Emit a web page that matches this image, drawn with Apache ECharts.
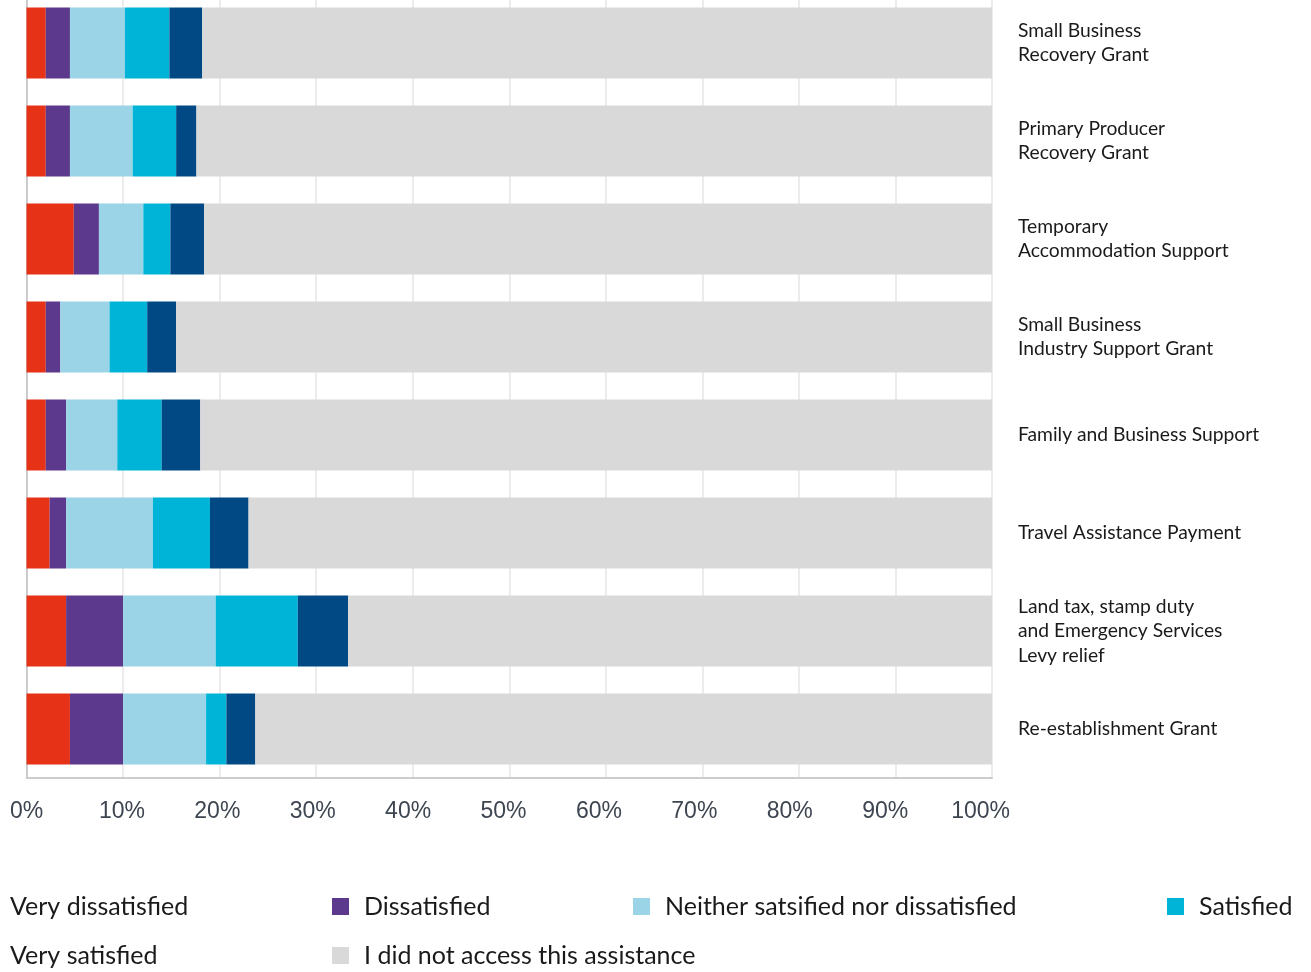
<!DOCTYPE html>
<html>
<head>
<meta charset="utf-8">
<title>Satisfaction with assistance</title>
<script src="https://cdn.jsdelivr.net/npm/echarts@6/dist/echarts.min.js"></script>
<style>
  html, body { margin: 0; padding: 0; background: #ffffff; overflow: hidden; }
  /* canvas extends 10px above the page so the first band can sit flush with the top edge */
  #chart { width: 1311px; height: 982px; margin-top: -10px; }
</style>
</head>
<body>
<div id="chart"></div>
<script>
// Assistance programs, top to bottom
const categories = [
  'Small Business\nRecovery Grant',
  'Primary Producer\nRecovery Grant',
  'Temporary\nAccommodation Support',
  'Small Business\nIndustry Support Grant',
  'Family and Business Support',
  'Travel Assistance Payment',
  'Land tax, stamp duty\nand Emergency Services\nLevy relief',
  'Re-establishment Grant'
];

// Share of respondents (%) per response
const veryDissatisfied = [2.0, 2.0, 4.9, 2.0, 2.0, 2.4, 4.1, 4.5];
const dissatisfied     = [2.5, 2.5, 2.6, 1.5, 2.1, 1.7, 5.9, 5.5];
const neither          = [5.7, 6.5, 4.6, 5.1, 5.3, 9.0, 9.6, 8.6];
const satisfied        = [4.6, 4.5, 2.8, 3.9, 4.6, 5.9, 8.5, 2.1];
const verySatisfied    = [3.4, 2.1, 3.5, 3.0, 4.0, 4.0, 5.2, 3.0];
const didNotAccess     = [81.8, 82.4, 81.6, 84.5, 82.0, 77.0, 66.7, 76.3];

const xTicks = [0, 10, 20, 30, 40, 50, 60, 70, 80, 90, 100];

const seriesDefs = [
  { name: 'Very dissatisfied', data: veryDissatisfied, color: '#e63318' },
  { name: 'Dissatisfied', data: dissatisfied, color: '#5c398c' },
  { name: 'Neither satsified nor dissatisfied', data: neither, color: '#9ad4e6' },
  { name: 'Satisfied', data: satisfied, color: '#00b4d8' },
  { name: 'Very satisfied', data: verySatisfied, color: '#004985' },
  { name: 'I did not access this assistance', data: didNotAccess, color: '#d9d9d9' }
];

// One legend per entry, laid out in a two-row, four-column block
const legendSlots = [
  { name: 'Very dissatisfied', left: -22, top: 904 },
  { name: 'Dissatisfied', left: 332, top: 904 },
  { name: 'Neither satsified nor dissatisfied', left: 633, top: 904 },
  { name: 'Satisfied', left: 1167, top: 904 },
  { name: 'Very satisfied', left: -22, top: 953 },
  { name: 'I did not access this assistance', left: 332, top: 953 }
];

const legends = legendSlots.map(s => ({
  left: s.left,
  top: s.top,
  padding: 0,
  data: [s.name],
  icon: 'rect',
  itemWidth: 17,
  itemHeight: 17,
  selectedMode: false,
  textStyle: {
    fontFamily: 'Lato, "Open Sans", sans-serif',
    fontSize: 25,
    lineHeight: 24,
    color: '#1a1a1a',
    padding: [0, 0, 0, 10]
  }
}));

const chart = echarts.init(document.getElementById('chart'), null, { renderer: 'canvas' });

chart.setOption({
  animation: false,
  backgroundColor: '#ffffff',
  grid: { left: 26.5, right: 319, top: 4, bottom: 194, containLabel: false },
  legend: legends,
  xAxis: [
    {
      type: 'value',
      min: 0,
      max: 100,
      interval: 10,
      axisLine: { show: true, lineStyle: { color: '#cccccc', width: 2 } },
      axisTick: { show: false },
      splitLine: { show: true, lineStyle: { color: '#ececec', width: 2 } },
      axisLabel: { show: false }
    },
    {
      // label row, spaced slightly tighter than the grid lines
      type: 'value',
      position: 'bottom',
      min: 0,
      max: 101.2,
      interval: 10,
      axisLine: { show: false },
      axisTick: { show: false },
      splitLine: { show: false },
      axisLabel: {
        margin: 22,
        showMaxLabel: false,
        fontFamily: '"Liberation Sans", Arial, sans-serif',
        fontSize: 23,
        color: '#3d4550',
        formatter: v => xTicks.includes(Math.round(v)) && Math.abs(v - Math.round(v)) < 1e-6 ? Math.round(v) + '%' : ''
      }
    }
  ],
  yAxis: [
    {
      type: 'category',
      data: categories,
      inverse: true,
      position: 'right',
      axisLine: { show: false },
      axisTick: { show: false },
      axisLabel: {
        align: 'left',
        margin: 26,
        fontFamily: 'Lato, "Open Sans", sans-serif',
        fontSize: 19.3,
        lineHeight: 24.5,
        color: '#1a1a1a'
      }
    },
    {
      type: 'category',
      data: categories,
      inverse: true,
      position: 'left',
      axisLine: { show: true, lineStyle: { color: '#cccccc', width: 2 } },
      axisTick: { show: false },
      axisLabel: { show: false }
    }
  ],
  series: seriesDefs.map(s => ({
    name: s.name,
    type: 'bar',
    stack: 'total',
    barWidth: 71,
    data: s.data,
    itemStyle: { color: s.color },
    emphasis: { disabled: true }
  }))
});
</script>
</body>
</html>
